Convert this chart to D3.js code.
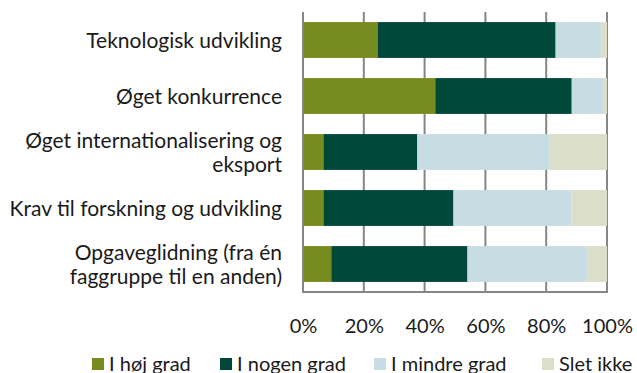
<!DOCTYPE html>
<html>
<head>
<meta charset="utf-8">
<script src="https://cdn.jsdelivr.net/npm/d3@7"></script>
<style>
  html, body { margin: 0; padding: 0; background: #fff; }
  svg { display: block; font-family: Lato, "Open Sans", sans-serif; }
</style>
</head>
<body>
<svg id="chart" width="637" height="373"></svg>
<script>
// Categories (top to bottom); multi-line labels split by "\n"
const categories = [
  "Teknologisk udvikling",
  "Øget konkurrence",
  "Øget internationalisering og\neksport",
  "Krav til forskning og udvikling",
  "Opgaveglidning (fra én\nfaggruppe til en anden)"
];

// Series names and shares (%) per category
const seriesNames = ["I høj grad", "I nogen grad", "I mindre grad", "Slet ikke"];
const hoejGrad    = [24.5, 43.5,  6.7,  6.7,  9.3];
const nogenGrad   = [58.6, 44.9, 30.9, 42.8, 44.8];
const mindreGrad  = [15.1, 10.3, 43.4, 38.8, 39.3];
const sletIkke    = [ 1.8,  1.3, 19.0, 11.7,  6.6];

const tickValues = [0, 20, 40, 60, 80, 100];
const colors = ["#778c1f", "#00493a", "#c7dce3", "#dbdec8"];

const rows = categories.map((c, i) => ({
  category: c,
  [seriesNames[0]]: hoejGrad[i],
  [seriesNames[1]]: nogenGrad[i],
  [seriesNames[2]]: mindreGrad[i],
  [seriesNames[3]]: sletIkke[i]
}));

const svg = d3.select("#chart");
const plot = { left: 303, right: 607, top: 12, bottom: 292 };

const x = d3.scaleLinear().domain([0, 100]).range([plot.left, plot.right]);
const y = d3.scaleBand().domain(categories)
  .range([plot.top, plot.bottom]).paddingInner(0.36).paddingOuter(0.18);
const color = d3.scaleOrdinal().domain(seriesNames).range(colors);

const gridColor = "#868686";

// Vertical gridlines
svg.append("g").selectAll("line").data(tickValues).join("line")
  .attr("x1", d => x(d)).attr("x2", d => x(d))
  .attr("y1", plot.top).attr("y2", plot.bottom)
  .attr("stroke", gridColor).attr("stroke-width", 2);

// Stacked bars
const stacked = d3.stack().keys(seriesNames)(rows);
svg.append("g").selectAll("g").data(stacked).join("g")
  .attr("fill", d => color(d.key))
  .selectAll("rect").data(d => d).join("rect")
  .attr("x", d => x(d[0]))
  .attr("width", d => x(d[1]) - x(d[0]))
  .attr("y", d => y(d.data.category))
  .attr("height", y.bandwidth());

// Axis lines (left and bottom)
svg.append("line")
  .attr("x1", plot.left).attr("x2", plot.left)
  .attr("y1", plot.top).attr("y2", plot.bottom)
  .attr("stroke", gridColor).attr("stroke-width", 2);
svg.append("line")
  .attr("x1", plot.left - 1).attr("x2", plot.right + 1)
  .attr("y1", plot.bottom).attr("y2", plot.bottom)
  .attr("stroke", gridColor).attr("stroke-width", 2);

// Percentage tick labels
const xAxis = d3.axisBottom(x).tickValues(tickValues)
  .tickFormat(d => d + "%").tickSize(0).tickPadding(0);
const gx = svg.append("g").attr("transform", `translate(0,${plot.bottom})`).call(xAxis);
gx.select(".domain").remove();
gx.selectAll("text")
  .attr("y", 0).attr("dy", 0)
  .attr("transform", "translate(0,41)")
  .attr("font-family", "Lato, sans-serif")
  .attr("font-size", 20).attr("fill", "#1a1a1a");

// Category labels, right aligned, centred on each bar
const lineGap = 24;
const labels = svg.append("g").selectAll("text").data(categories).join("text")
  .attr("text-anchor", "end")
  .attr("font-size", 21).attr("fill", "#1a1a1a");
labels.each(function(c) {
  const lines = c.split("\n");
  const cy = y(c) + y.bandwidth() / 2;
  const first = cy + 8 - (lines.length - 1) * lineGap / 2;
  d3.select(this).selectAll("tspan").data(lines).join("tspan")
    .attr("x", 282)
    .attr("y", (d, i) => first + i * lineGap)
    .text(d => d);
});

// Legend
const legendX = [92, 220, 374, 542];
const legend = svg.append("g").selectAll("g").data(seriesNames).join("g")
  .attr("transform", (d, i) => `translate(${legendX[i]},358)`);
legend.append("rect").attr("width", 12).attr("height", 12).attr("fill", d => color(d));
legend.append("text").attr("x", 17).attr("y", 12.5)
  .attr("font-size", 20).attr("fill", "#1a1a1a").text(d => d);
</script>
</body>
</html>
